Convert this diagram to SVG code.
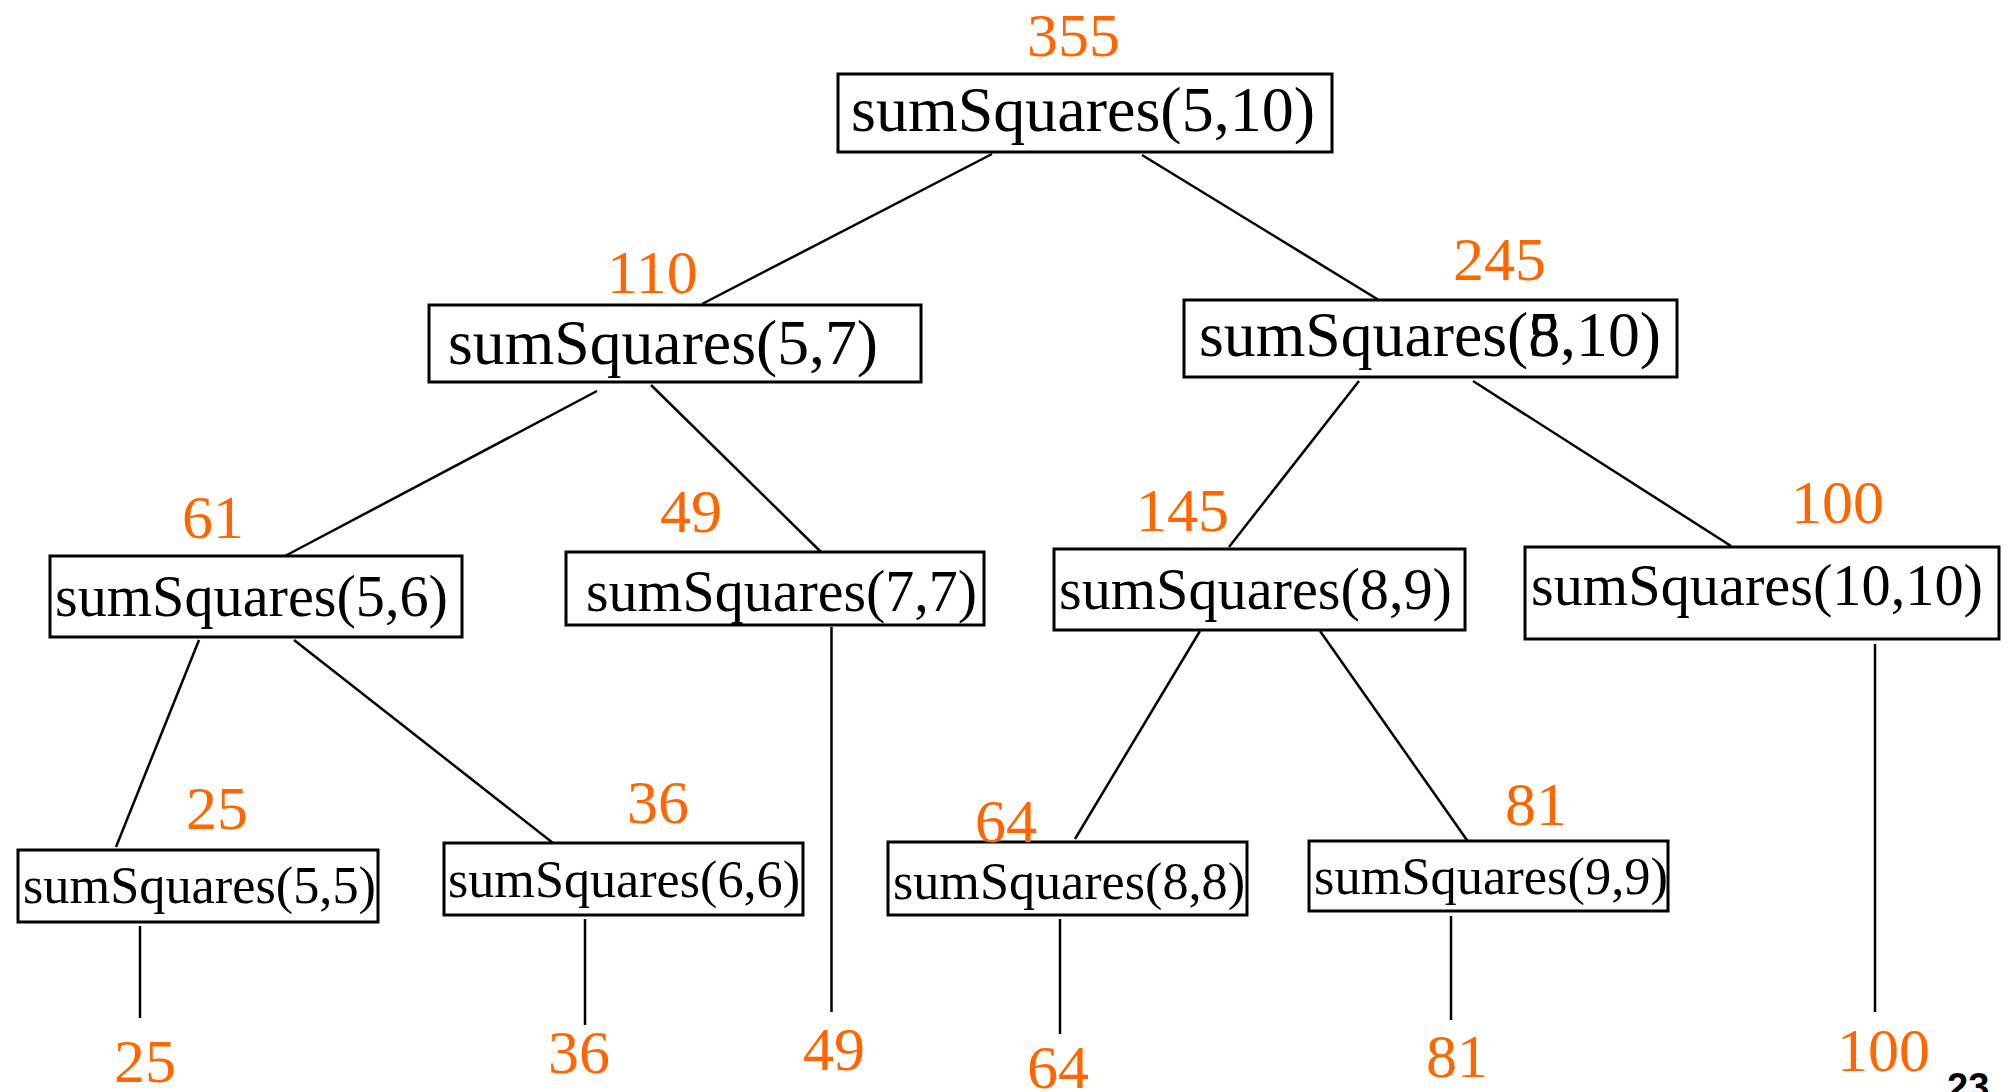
<svg xmlns="http://www.w3.org/2000/svg" width="2012" height="1092" viewBox="0 0 2012 1092">
<style>
.box{fill:#fff;stroke:#000;stroke-width:3}
.t{font-family:"Liberation Serif","Times New Roman",serif;fill:#000}
.t1{font-size:64px}
.t2{font-size:60px}
.t3{font-size:53px}
.v{font-family:"Liberation Serif","Times New Roman",serif;font-size:62px;fill:#FF6600}
.c line{stroke:#000;stroke-width:2.5}
.pg{font-family:"Liberation Sans",Arial,sans-serif;font-weight:bold;font-size:38px;fill:#000}
</style>
<rect width="2012" height="1092" fill="#fff"/>
<g class="c" id="connectors">
<line x1="992" y1="154" x2="702" y2="304"/>
<line x1="1142" y1="155" x2="1382" y2="302"/>
<line x1="597" y1="391" x2="285" y2="556"/>
<line x1="651" y1="385" x2="821" y2="552"/>
<line x1="1359" y1="381" x2="1229" y2="547"/>
<line x1="1473" y1="381" x2="1731" y2="546"/>
<line x1="199" y1="640" x2="116" y2="847"/>
<line x1="294" y1="640" x2="553" y2="843"/>
<line x1="831.5" y1="627" x2="831.5" y2="1012"/>
<line x1="1200" y1="631" x2="1075" y2="839"/>
<line x1="1320" y1="631" x2="1469" y2="843"/>
<line x1="1875" y1="644" x2="1875" y2="1012"/>
<line x1="140" y1="926" x2="140" y2="1018"/>
<line x1="585" y1="919" x2="585" y2="1025"/>
<line x1="1060" y1="919" x2="1060" y2="1034"/>
<line x1="1451" y1="916" x2="1451" y2="1020"/>
</g>
<g id="n510">
<rect class="box" x="838" y="74" width="494" height="78"/>
<text class="t t1" x="851" y="131" textLength="464" lengthAdjust="spacingAndGlyphs">sumSquares(5,10)</text>
<text class="v" x="1027" y="56">355</text>
</g>
<g id="n57">
<rect class="box" x="429" y="305" width="492" height="77"/>
<text class="t t1" x="448" y="364" textLength="430" lengthAdjust="spacingAndGlyphs">sumSquares(5,7)</text>
<text class="v" x="607" y="293">110</text>
</g>
<g id="n810">
<rect class="box" x="1184" y="300" width="493" height="77"/>
<text class="t t1" x="1199" y="356" textLength="462" lengthAdjust="spacingAndGlyphs">sumSquares(8,10)</text>
<text class="t t1" x="1528" y="356">5</text>
<text class="v" x="1453" y="280">245</text>
</g>
<g id="n56">
<rect class="box" x="50" y="556" width="412" height="81"/>
<text class="t t2" x="55" y="616" textLength="393" lengthAdjust="spacingAndGlyphs">sumSquares(5,6)</text>
<text class="v" x="182" y="538">61</text>
</g>
<g id="n77">
<rect class="box" x="566" y="552" width="418" height="73"/>
<text class="t t2" x="586" y="611" textLength="391" lengthAdjust="spacingAndGlyphs">sumSquares(7,7)</text>
<text class="v" x="660" y="532">49</text>
</g>
<g id="n89">
<rect class="box" x="1054" y="549" width="411" height="81"/>
<text class="t t2" x="1059" y="609" textLength="393" lengthAdjust="spacingAndGlyphs">sumSquares(8,9)</text>
<text class="v" x="1136" y="531">145</text>
</g>
<g id="n1010">
<rect class="box" x="1525" y="547" width="474" height="92"/>
<text class="t t2" x="1531" y="605" textLength="452" lengthAdjust="spacingAndGlyphs">sumSquares(10,10)</text>
<text class="v" x="1791" y="523">100</text>
</g>
<g id="n55">
<rect class="box" x="18" y="850" width="360" height="72"/>
<text class="t t3" x="23" y="903" textLength="353" lengthAdjust="spacingAndGlyphs">sumSquares(5,5)</text>
<text class="v" x="186" y="829">25</text>
<text class="v" x="114" y="1082">25</text>
</g>
<g id="n66">
<rect class="box" x="444" y="843" width="359" height="72"/>
<text class="t t3" x="448" y="897" textLength="352" lengthAdjust="spacingAndGlyphs">sumSquares(6,6)</text>
<text class="v" x="627" y="823">36</text>
<text class="v" x="548" y="1073">36</text>
</g>
<g id="l49">
<text class="v" x="803" y="1070">49</text>
</g>
<g id="n88">
<rect class="box" x="888" y="842" width="359" height="73"/>
<text class="t t3" x="893" y="899" textLength="352" lengthAdjust="spacingAndGlyphs">sumSquares(8,8)</text>
<text class="v" x="975" y="842">64</text>
<text class="v" x="1027" y="1088">64</text>
</g>
<g id="n99">
<rect class="box" x="1309" y="841" width="359" height="70"/>
<text class="t t3" x="1314" y="894" textLength="354" lengthAdjust="spacingAndGlyphs">sumSquares(9,9)</text>
<text class="v" x="1505" y="825">81</text>
<text class="v" x="1426" y="1077">81</text>
</g>
<g id="l100">
<text class="v" x="1837" y="1071">100</text>
</g>
<text class="pg" x="1947" y="1100">23</text>
</svg>
